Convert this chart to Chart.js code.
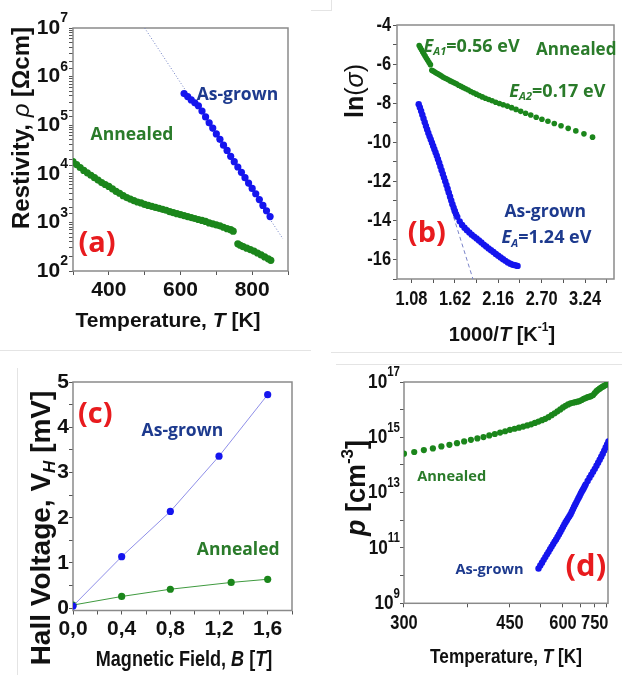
<!DOCTYPE html>
<html>
<head>
<meta charset="utf-8">
<script src="https://cdn.jsdelivr.net/npm/chart.js@4.4.1/dist/chart.umd.min.js"></script>
<style>
  html, body { margin: 0; padding: 0; background: #fff; }
  #page { position: relative; width: 622px; height: 675px; overflow: hidden; }
  canvas { position: absolute; }
  .rule { position: absolute; background: #e4e4e4; }
</style>
</head>
<body>
<div id="page">
  <div class="rule" style="left:0;top:350px;width:311px;height:1px"></div>
  <div class="rule" style="left:17px;top:368px;width:1px;height:307px"></div>
  <div class="rule" style="left:311px;top:10px;width:21px;height:1px"></div>
  <div class="rule" style="left:331px;top:0;width:1px;height:10px"></div>
  <div class="rule" style="left:331px;top:352px;width:291px;height:1px"></div>
  <div class="rule" style="left:336px;top:364px;width:286px;height:1px"></div>
  <canvas id="chartA" width="311" height="340" style="left:0;top:0"></canvas>
  <canvas id="chartB" width="311" height="352" style="left:311px;top:0"></canvas>
  <canvas id="chartC" width="311" height="335" style="left:0;top:340px"></canvas>
  <canvas id="chartD" width="311" height="335" style="left:311px;top:340px"></canvas>
</div>
<script>
// === (a) Resistividade vs temperatura ===
const tempAnnealedA = [300, 310, 320, 330, 340, 350, 360, 370, 380, 390,
  400, 410, 420, 430, 440, 450, 460, 470, 480, 490,
  500, 510, 520, 530, 540, 550, 560, 570, 580, 590,
  600, 610, 620, 630, 640, 650, 660, 670, 680, 690,
  700, 710, 720, 730, 740, 747,
  760, 767, 775, 785, 795, 805, 815, 825, 835, 845, 852];
const logRhoAnnealedA = [4.25, 4.19, 4.13, 4.07, 4.02, 3.97, 3.92, 3.87, 3.82, 3.78,
  3.74, 3.69, 3.64, 3.60, 3.55, 3.51, 3.48, 3.45, 3.42, 3.40,
  3.37, 3.35, 3.33, 3.31, 3.29, 3.27, 3.25, 3.22, 3.20, 3.18,
  3.16, 3.14, 3.12, 3.10, 3.08, 3.06, 3.04, 3.02, 2.99, 2.97,
  2.95, 2.93, 2.90, 2.87, 2.85, 2.82,
  2.56, 2.53, 2.50, 2.47, 2.44, 2.41, 2.37, 2.33, 2.29, 2.25, 2.22];
const tempAsGrownA = [610, 620, 630, 640, 650, 660, 670, 680, 690, 700,
  710, 720, 730, 740, 750, 760, 770, 780, 790, 800,
  810, 820, 830, 840, 850];
const logRhoAsGrownA = [5.65, 5.59, 5.52, 5.46, 5.40, 5.29, 5.17, 5.05, 4.94, 4.82,
  4.71, 4.59, 4.48, 4.36, 4.25, 4.14, 4.03, 3.92, 3.81, 3.70,
  3.59, 3.47, 3.35, 3.24, 3.12];
const fitTempA = [500, 886];
const fitLogRhoA = [7, 2.66];
const ticksTempA = [300, 400, 500, 600, 700, 800, 900];
const labelsTempA = [400, 600, 800];

// === (b) ln(sigma) vs 1000/T ===
const invTAnnealedB = [1.176, 1.190, 1.205, 1.220, 1.235, 1.250, 1.266, 1.282, 1.299, 1.316,
  1.333, 1.351, 1.370, 1.389, 1.408, 1.429, 1.449, 1.471, 1.493, 1.515,
  1.538, 1.563, 1.587, 1.613, 1.639, 1.667, 1.695, 1.724, 1.754, 1.786,
  1.818, 1.852, 1.887, 1.923, 1.961, 2.000, 2.041, 2.083, 2.128, 2.174,
  2.222, 2.273, 2.326, 2.381, 2.439, 2.500, 2.564, 2.632, 2.703, 2.778,
  2.857, 2.941, 3.030, 3.125, 3.226, 3.333];
const lnSigmaAnnealedB = [-5.05, -5.16, -5.27, -5.38, -5.49, -5.59, -5.70, -5.81, -5.92, -6.03,
  -6.32, -6.36, -6.41, -6.46, -6.50, -6.55, -6.60, -6.66, -6.71, -6.75,
  -6.80, -6.86, -6.91, -6.96, -7.01, -7.08, -7.14, -7.20, -7.26, -7.33,
  -7.40, -7.47, -7.54, -7.61, -7.68, -7.75, -7.81, -7.88, -7.95, -8.02,
  -8.08, -8.15, -8.23, -8.32, -8.42, -8.52, -8.61, -8.72, -8.82, -8.93,
  -9.04, -9.16, -9.29, -9.42, -9.57, -9.74];
const invTAsGrownB = [1.170, 1.185, 1.200, 1.215, 1.230, 1.245, 1.260, 1.275, 1.290, 1.305,
  1.320, 1.335, 1.350, 1.365, 1.380, 1.395, 1.410, 1.425, 1.440, 1.455,
  1.470, 1.485, 1.500, 1.515, 1.530, 1.545, 1.560, 1.575, 1.590, 1.605,
  1.620, 1.635, 1.650,
  1.68, 1.71, 1.74, 1.77, 1.80, 1.83, 1.86, 1.89, 1.92, 1.95,
  1.98, 2.01, 2.04, 2.07, 2.10, 2.13, 2.16, 2.19, 2.22, 2.25,
  2.28, 2.31, 2.34, 2.37, 2.40];
const lnSigmaAsGrownB = [-8.05, -8.22, -8.40, -8.59, -8.78, -8.98, -9.17, -9.35, -9.53, -9.70,
  -9.86, -10.03, -10.19, -10.36, -10.52, -10.69, -10.87, -11.05, -11.24, -11.43,
  -11.62, -11.81, -12.00, -12.19, -12.38, -12.58, -12.78, -12.98, -13.17, -13.35,
  -13.52, -13.68, -13.82,
  -14.05, -14.23, -14.38, -14.50, -14.62, -14.73, -14.83, -14.93, -15.03, -15.13,
  -15.24, -15.34, -15.44, -15.53, -15.62, -15.72, -15.81, -15.90, -15.99, -16.07,
  -16.15, -16.22, -16.27, -16.30, -16.33];
const fitInvTB = [1.50, 1.86];
const fitLnSigmaB = [-12.45, -17.2];
const ticksInvTB = [1.08, 1.35, 1.62, 1.89, 2.16, 2.43, 2.70, 2.97, 3.24, 3.51];
const labelsInvTB = [1.08, 1.62, 2.16, 2.70, 3.24];
const ticksLnSigmaB = [-17, -16, -15, -14, -13, -12, -11, -10, -9, -8, -7, -6, -5, -4];

// === (c) Tensão Hall vs campo magnético ===
const fieldAsGrownC = [0, 0.4, 0.8, 1.2, 1.6];
const hallAsGrownC = [0.05, 1.14, 2.14, 3.36, 4.72];
const fieldAnnealedC = [0, 0.4, 0.8, 1.3, 1.6];
const hallAnnealedC = [0.07, 0.26, 0.42, 0.57, 0.64];
const ticksFieldC = [0, 0.2, 0.4, 0.6, 0.8, 1.0, 1.2, 1.4, 1.6, 1.8];
const labelsFieldC = [0, 0.4, 0.8, 1.2, 1.6];
const ticksHallC = [0, 0.5, 1, 1.5, 2, 2.5, 3, 3.5, 4, 4.5, 5];

// === (d) Concentração de buracos vs temperatura (eixo em 1/T) ===
const tempAnnealedD = [300, 310, 320, 330, 340, 350, 360, 370, 380, 390,
  400, 410, 420, 430, 440, 450, 460, 470, 480, 490,
  500, 510, 520, 530, 540, 550, 560, 570, 580, 590,
  600, 610, 620, 630, 640, 650, 660, 670, 680, 690,
  700, 710, 720, 730, 740, 750, 760, 770, 780, 790,
  800, 810, 820, 830, 840];
const logPAnnealedD = [14.41, 14.47, 14.54, 14.60, 14.67, 14.73, 14.79, 14.85, 14.91, 14.96,
  15.01, 15.07, 15.12, 15.17, 15.22, 15.27, 15.31, 15.35, 15.39, 15.43,
  15.47, 15.52, 15.57, 15.62, 15.67, 15.73, 15.80, 15.87, 15.94, 16.01,
  16.08, 16.14, 16.19, 16.23, 16.25, 16.27, 16.29, 16.31, 16.35, 16.39,
  16.42, 16.45, 16.47, 16.49, 16.53, 16.60, 16.67, 16.72, 16.76, 16.80,
  16.83, 16.86, 16.89, 16.92, 16.94];
const tempAsGrownD = [520, 525, 530, 535, 540, 545, 550, 555, 560, 565,
  570, 575, 580, 585, 590, 595, 600, 605, 610, 615,
  620, 625, 630, 635, 640, 645, 650, 655, 660, 665,
  670, 675, 680, 685, 690, 695, 700,
  710, 720, 730, 740, 750, 760, 770, 780, 790, 800,
  810, 820, 830, 840];
const logPAsGrownD = [10.26, 10.37, 10.47, 10.57, 10.67, 10.77, 10.86, 10.96, 11.05, 11.14,
  11.23, 11.31, 11.40, 11.49, 11.58, 11.67, 11.76, 11.85, 11.93, 12.00,
  12.08, 12.15, 12.22, 12.31, 12.40, 12.49, 12.57, 12.65, 12.73, 12.81,
  12.88, 12.96, 13.03, 13.10, 13.16, 13.23, 13.30,
  13.42, 13.54, 13.65, 13.76, 13.86, 13.97, 14.08, 14.19, 14.30, 14.41,
  14.52, 14.63, 14.74, 14.85];
const ticksTempD = [300, 375, 450, 525, 600, 675, 750, 825];
const labelsTempD = [300, 450, 600, 750];
const decadesD = [9, 10, 11, 12, 13, 14, 15, 16, 17];

// --- cores e fontes ---
const GREEN = '#1b861b';
const BLUE = '#1515ee';
const GREEN_TXT = '#2a7b2a';
const BLUE_TXT = '#1d3a8e';
const RED = '#e81b1e';
const FRAME = '#8a8a8a';
const TICK = '#555';
const LIB = '"Liberation Sans", Arial, sans-serif';
const OPEN = '"Open Sans", sans-serif';
const NARROW_X = 0.82; // sem fonte condensada instalada: escala horizontal

const pow10 = v => Math.pow(10, v);
const invT = t => 1000 / t;
const pts = (xs, ys, fx, fy) => xs.map((x, i) => ({ x: fx ? fx(x) : x, y: fy ? fy(ys[i]) : ys[i] }));
const has = (list, v, eps) => list.some(m => Math.abs(m - v) < (eps || 1e-6));
const decade = v => Math.round(Math.log10(v));
const isDecade = v => Math.abs(Math.log10(v) - decade(v)) < 1e-6;

// texto com itálico / índices
function drawRich(ctx, parts, x, y, o) {
  const fam = o.family || LIB;
  const small = o.subScale || 0.62;
  const fontOf = p => {
    const sz = p.s ? Math.round(o.size * small) : o.size;
    return (p.i ? 'italic ' : '') + (p.w || o.weight || 'bold') + ' ' + sz + 'px ' + fam;
  };
  ctx.save();
  ctx.translate(x, y);
  if (o.rotate) ctx.rotate(-Math.PI / 2);
  if (o.sx) ctx.scale(o.sx, 1);
  let w = 0;
  parts.forEach(p => { ctx.font = fontOf(p); w += ctx.measureText(p.t).width; });
  let cx = o.align === 'left' ? 0 : o.align === 'right' ? -w : -w / 2;
  ctx.fillStyle = o.color || '#111';
  ctx.textBaseline = 'middle';
  parts.forEach(p => {
    ctx.font = fontOf(p);
    const dy = p.s === 'sub' ? o.size * 0.3 : p.s === 'sup' ? -o.size * (o.supDy || 0.36) : 0;
    ctx.fillText(p.t, cx, dy);
    cx += ctx.measureText(p.t).width;
  });
  ctx.restore();
}

// moldura, rótulos especiais dos eixos, títulos e anotações
function decor(spec) {
  return {
    id: 'decor',
    beforeDatasetsDraw(chart) {
      const { ctx, chartArea: a } = chart;
      ctx.save();
      ctx.strokeStyle = FRAME;
      ctx.lineWidth = 1.5;
      ctx.strokeRect(a.left, a.top, a.right - a.left, a.bottom - a.top);
      ctx.restore();
    },
    afterDraw(chart) {
      const { ctx, scales, chartArea: a } = chart;
      const rich = spec.rich || {};
      if (rich.x) scales.x.ticks.forEach(tk => {
        const parts = rich.x.fmt(tk.value);
        if (parts) drawRich(ctx, parts, scales.x.getPixelForValue(tk.value), a.bottom + rich.x.off, rich.x);
      });
      if (rich.y) scales.y.ticks.forEach(tk => {
        const parts = rich.y.fmt(tk.value);
        if (parts) drawRich(ctx, parts, a.left - rich.y.off, scales.y.getPixelForValue(tk.value),
          Object.assign({ align: 'right' }, rich.y));
      });
      spec.titles.forEach(t => drawRich(ctx, t.parts, t.x, t.y, t));
      spec.notes.forEach(n => drawRich(ctx, n.parts,
        scales.x.getPixelForValue(n.at[0]), scales.y.getPixelForValue(n.at[1]),
        Object.assign({ align: 'left', family: OPEN }, n)));
    }
  };
}

function axis(o) {
  return {
    type: o.type || 'linear',
    min: o.min, max: o.max, reverse: !!o.reverse,
    afterBuildTicks: o.ticks ? s => { s.ticks = o.ticks.map(v => ({ value: v })); } : undefined,
    afterFit: s => { if (o.width) s.width = o.width; if (o.height) s.height = o.height; },
    grid: { drawOnChartArea: false, drawTicks: true, tickLength: 4, color: TICK, lineWidth: 1 },
    border: { display: false },
    ticks: { display: !!o.label, autoSkip: false, maxRotation: 0, minRotation: 0,
      padding: o.pad == null ? 3 : o.pad, color: '#111', font: o.font, callback: o.label }
  };
}

function panel(id, datasets, pad, scales, spec) {
  return new Chart(document.getElementById(id), {
    type: 'scatter',
    data: { datasets },
    options: {
      responsive: false, animation: false, devicePixelRatio: 1,
      layout: { padding: pad },
      plugins: { legend: { display: false }, tooltip: { enabled: false } },
      scales
    },
    plugins: [decor(spec)]
  });
}

const dots = (data, color, r) => ({ data, backgroundColor: color, borderWidth: 0, pointRadius: r, pointHoverRadius: r });
const fitLine = (data, color, dash) => ({ data, showLine: true, borderColor: color, borderWidth: 1, borderDash: dash, pointRadius: 0, order: 5 });
const logParts = v => isDecade(v) ? [{ t: '10' }, { t: String(decade(v)), s: 'sup' }] : null;

// ---- (a) ----
panel('chartA', [
  fitLine(pts(fitTempA, fitLogRhoA, null, pow10), '#6f7fc4', [1, 2]),
  dots(pts(tempAnnealedA, logRhoAnnealedA, null, pow10), GREEN, 3.6),
  dots(pts(tempAsGrownA, logRhoAsGrownA, null, pow10), BLUE, 3.6)
], { top: 28, right: 23, left: 0, bottom: 0 }, {
  x: axis({ min: 300, max: 900, ticks: ticksTempA, height: 69, pad: 3,
    font: { family: LIB, size: 21, weight: 'bold' },
    label: v => has(labelsTempA, v) ? String(v) : '' }),
  y: axis({ type: 'logarithmic', min: 1e2, max: 1e7, width: 73 })
}, {
  rich: { y: { fmt: logParts, off: 5, size: 21, supDy: 0.45, subScale: 0.66 } },
  titles: [
    { parts: [{ t: 'Temperature, ' }, { t: 'T', i: true }, { t: ' [K]' }], x: 168, y: 321, size: 21 },
    { parts: [{ t: 'Restivity, ' }, { t: 'ρ', i: true, w: 'normal' }, { t: ' [Ωcm]' }], x: 22, y: 128, size: 24, rotate: true }
  ],
  notes: [
    { parts: [{ t: 'Annealed' }], at: [349, pow10(4.80)], size: 17.5, color: GREEN_TXT },
    { parts: [{ t: 'As-grown' }], at: [645, pow10(5.62)], size: 17.5, color: BLUE_TXT },
    { parts: [{ t: '(a)' }], at: [315, pow10(2.57)], size: 29, color: RED }
  ]
});

// ---- (b) ----
panel('chartB', [
  fitLine(pts(fitInvTB, fitLnSigmaB), '#7a84c8', [4, 3]),
  dots(pts(invTAnnealedB, lnSigmaAnnealedB), GREEN, 2.8),
  dots(pts(invTAsGrownB, lnSigmaAsGrownB), BLUE, 3.2)
], { top: 25, right: 8, left: 0, bottom: 0 }, {
  x: axis({ min: 0.9, max: 3.6, ticks: ticksInvTB, height: 73 }),
  y: axis({ min: -17, max: -4, width: 86, ticks: ticksLnSigmaB })
}, {
  rich: {
    x: { fmt: v => has(labelsInvTB, v) ? [{ t: v.toFixed(2) }] : null, off: 20, size: 20, sx: NARROW_X },
    y: { fmt: v => v % 2 === 0 ? [{ t: String(v) }] : null, off: 6, size: 20, sx: NARROW_X }
  },
  titles: [
    { parts: [{ t: '1000/' }, { t: 'T', i: true }, { t: ' [K' }, { t: '-1', s: 'sup' }, { t: ']' }], x: 191, y: 335, size: 20 },
    { parts: [{ t: 'ln' }, { t: '(', w: 'normal' }, { t: 'σ', i: true, w: 'normal' }, { t: ')', w: 'normal' }], x: 45, y: 91, size: 25, rotate: true }
  ],
  notes: [
    { parts: [{ t: 'E', i: true }, { t: 'A1', i: true, s: 'sub' }, { t: '=0.56 eV' }], at: [1.231, -5.11], size: 18, color: GREEN_TXT },
    { parts: [{ t: 'Annealed' }], at: [2.63, -5.28], size: 17, color: GREEN_TXT },
    { parts: [{ t: 'E', i: true }, { t: 'A2', i: true, s: 'sub' }, { t: '=0.17 eV' }], at: [2.298, -7.41], size: 18, color: GREEN_TXT },
    { parts: [{ t: 'As-grown' }], at: [2.237, -13.55], size: 17.5, color: BLUE_TXT },
    { parts: [{ t: 'E', i: true }, { t: 'A', i: true, s: 'sub' }, { t: '=1.24 eV' }], at: [2.20, -14.92], size: 18, color: BLUE_TXT },
    { parts: [{ t: '(b)' }], at: [1.035, -14.66], size: 29, color: RED }
  ]
});

// ---- (c) ----
panel('chartC', [
  { data: pts(fieldAsGrownC, hallAsGrownC), showLine: true, borderColor: '#8f8fe8', borderWidth: 1,
    backgroundColor: BLUE, pointRadius: 3.6, pointBorderWidth: 0 },
  { data: pts(fieldAnnealedC, hallAnnealedC), showLine: true, borderColor: '#3f9a3f', borderWidth: 1,
    backgroundColor: GREEN, pointRadius: 3.6, pointBorderWidth: 0 }
], { top: 42, right: 19, left: 0, bottom: 0 }, {
  x: axis({ min: 0, max: 1.8, ticks: ticksFieldC, height: 64.5, pad: 2,
    font: { family: LIB, size: 21, weight: 'bold' },
    label: v => has(labelsFieldC, v) ? v.toFixed(1).replace('.', ',') : '' }),
  y: axis({ min: -0.05, max: 5, width: 73, pad: 0, ticks: ticksHallC,
    font: { family: LIB, size: 21, weight: 'bold' },
    label: v => Number.isInteger(v) ? String(v) : '' })
}, {
  titles: [
    { parts: [{ t: 'Magnetic Field, ' }, { t: 'B', i: true }, { t: ' [' }, { t: 'T', i: true }, { t: ']' }], x: 184, y: 320, size: 22, sx: NARROW_X },
    { parts: [{ t: 'Hall Voltage, V' }, { t: 'H', i: true, s: 'sub' }, { t: ' [mV]' }], x: 42, y: 188, size: 28, rotate: true }
  ],
  notes: [
    { parts: [{ t: '(c)' }], at: [0.041, 4.27], size: 29, color: RED },
    { parts: [{ t: 'As-grown' }], at: [0.564, 3.91], size: 17.5, color: BLUE_TXT },
    { parts: [{ t: 'Annealed' }], at: [1.018, 1.29], size: 17.5, color: GREEN_TXT }
  ]
});

// ---- (d) ----
panel('chartD', [
  dots(pts(tempAnnealedD, logPAnnealedD, invT, pow10), GREEN, 3.1),
  dots(pts(tempAsGrownD, logPAsGrownD, invT, pow10), BLUE, 3.2)
], { top: 42, right: 14, left: 0, bottom: 0 }, {
  x: axis({ min: 1.195, max: 3.333, reverse: true, ticks: ticksTempD.map(invT), height: 71.7 }),
  y: axis({ type: 'logarithmic', min: 1e9, max: 1e17, width: 93, ticks: decadesD.map(pow10) })
}, {
  rich: {
    x: { fmt: v => { const t = labelsTempD.find(m => Math.abs(m - 1000 / v) < 0.5); return t ? [{ t: String(t) }] : null; },
      off: 20, size: 20, sx: NARROW_X },
    y: { fmt: v => decade(v) % 2 ? logParts(v) : null, off: 4, size: 21, sx: NARROW_X, supDy: 0.45, subScale: 0.66 }
  },
  titles: [
    { parts: [{ t: 'Temperature, ' }, { t: 'T', i: true }, { t: ' [K]' }], x: 195, y: 317, size: 21, sx: NARROW_X },
    { parts: [{ t: 'p', i: true }, { t: ' [cm' }, { t: '-3', s: 'sup' }, { t: ']' }], x: 47, y: 148, size: 27, rotate: true }
  ],
  notes: [
    { parts: [{ t: 'Annealed' }], at: [invT(313), pow10(13.57)], size: 14.6, color: GREEN_TXT },
    { parts: [{ t: 'As-grown' }], at: [invT(358), pow10(10.20)], size: 14.6, color: BLUE_TXT },
    { parts: [{ t: '(d)' }], at: [invT(610), pow10(10.32)], size: 31, color: RED }
  ]
});
</script>
</body>
</html>
